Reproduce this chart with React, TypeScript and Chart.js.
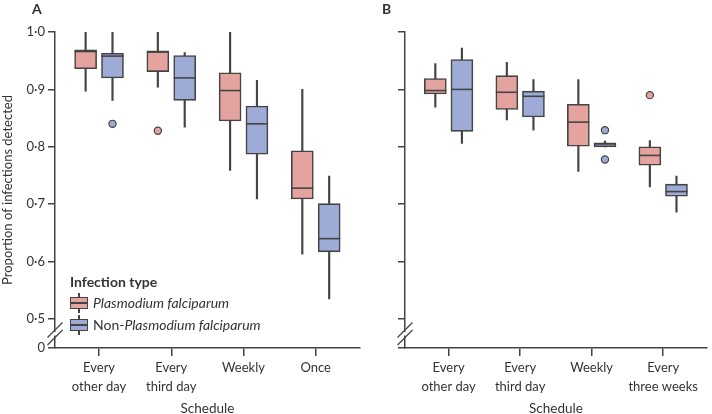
import React, { useEffect, useRef } from "react";
import { Chart, registerables } from "chart.js";

Chart.register(...registerables);

// ---------- data ----------
const CATEGORIES_A: string[][] = [["Every", "other day"], ["Every", "third day"], ["Weekly"], ["Once"]];
const CATEGORIES_B: string[][] = [["Every", "other day"], ["Every", "third day"], ["Weekly"], ["Every", "three weeks"]];

const Y_TICKS = [0.5, 0.6, 0.7, 0.8, 0.9, 1.0];
const Y_TICK_LABELS = ["0·5", "0·6", "0·7", "0·8", "0·9", "1·0"];
const Y_BREAK_LABEL = "0";

// Panel A – Plasmodium falciparum
const A_PF_HIGH = [1.0, 1.0, 1.0, 0.9];
const A_PF_Q3 = [0.969, 0.967, 0.929, 0.793];
const A_PF_MED = [0.966, 0.965, 0.898, 0.728];
const A_PF_Q1 = [0.936, 0.931, 0.845, 0.709];
const A_PF_LOW = [0.897, 0.904, 0.759, 0.613];
const A_PF_OUT_CAT = [1];
const A_PF_OUT_VAL = [0.828];

// Panel A – non-Plasmodium falciparum
const A_NPF_HIGH = [1.0, 0.964, 0.916, 0.749];
const A_NPF_Q3 = [0.963, 0.959, 0.871, 0.701];
const A_NPF_MED = [0.958, 0.92, 0.84, 0.64];
const A_NPF_Q1 = [0.92, 0.881, 0.787, 0.617];
const A_NPF_LOW = [0.881, 0.834, 0.709, 0.535];
const A_NPF_OUT_CAT = [0];
const A_NPF_OUT_VAL = [0.84];

// Panel B – Plasmodium falciparum
const B_PF_HIGH = [0.945, 0.947, 0.917, 0.811];
const B_PF_Q3 = [0.919, 0.924, 0.874, 0.8];
const B_PF_MED = [0.898, 0.895, 0.843, 0.785];
const B_PF_Q1 = [0.892, 0.865, 0.801, 0.768];
const B_PF_LOW = [0.869, 0.847, 0.757, 0.73];
const B_PF_OUT_CAT = [3];
const B_PF_OUT_VAL = [0.89];

// Panel B – non-Plasmodium falciparum
const B_NPF_HIGH = [0.972, 0.917, 0.81, 0.749];
const B_NPF_Q3 = [0.952, 0.897, 0.807, 0.735];
const B_NPF_MED = [0.9, 0.888, 0.805, 0.722];
const B_NPF_Q1 = [0.827, 0.852, 0.8, 0.714];
const B_NPF_LOW = [0.806, 0.829, 0.8, 0.686];
const B_NPF_OUT_CAT = [2, 2];
const B_NPF_OUT_VAL = [0.829, 0.778];

// ---------- style ----------
const FONT = "Lato";
const TEXT = "#333333";
const LINE = "#444444";
const RED = "#e4a39f";
const BLUE = "#9eabd7";
const GROUP_OFFSET = 0.186;
const X_PAD = 0.61;
const Y_MIN = 0.4495;

type Series = {
  low: number[]; q1: number[]; med: number[]; q3: number[]; high: number[];
  outCat: number[]; outVal: number[]; fill: string; off: number;
};

function buildDatasets(series: Series[]) {
  const ds: any[] = [];
  series.forEach((s) => {
    ds.push({
      type: "bar",
      data: s.low.map((v, i) => ({ x: i + s.off, y: [v, s.high[i]] })),
      backgroundColor: LINE,
      borderWidth: 0,
      barThickness: 1.5,
      grouped: false,
      order: 3,
    });
    ds.push({
      type: "bar",
      data: s.q1.map((v, i) => ({ x: i + s.off, y: [v, s.q3[i]] })),
      backgroundColor: s.fill,
      borderColor: LINE,
      borderWidth: 1.6,
      borderSkipped: false,
      barThickness: 22,
      grouped: false,
      order: 2,
      medians: s.med,
    });
    ds.push({
      type: "scatter",
      data: s.outCat.map((c, i) => ({ x: c + s.off, y: s.outVal[i] })),
      backgroundColor: s.fill,
      borderColor: LINE,
      borderWidth: 1.2,
      pointRadius: 3.6,
      order: 1,
    });
  });
  return ds;
}

const medianPlugin = {
  id: "medians",
  afterDatasetsDraw(chart: any) {
    const ctx = chart.ctx;
    const ys = chart.scales.y;
    chart.data.datasets.forEach((d: any, di: number) => {
      if (!d.medians) return;
      const meta = chart.getDatasetMeta(di);
      meta.data.forEach((el: any, i: number) => {
        const yy = ys.getPixelForValue(d.medians[i]);
        ctx.save();
        ctx.strokeStyle = LINE;
        ctx.lineWidth = 1.6;
        ctx.beginPath();
        ctx.moveTo(el.x - el.width / 2, yy);
        ctx.lineTo(el.x + el.width / 2, yy);
        ctx.stroke();
        ctx.restore();
      });
    });
  },
};

const breakPlugin = {
  id: "axisBreak",
  afterDraw(chart: any) {
    const ctx = chart.ctx;
    const x = chart.chartArea.left;
    const b = chart.scales.y.bottom;
    const centers = [b - 10.5, b - 18];
    ctx.save();
    ctx.strokeStyle = "#ffffff";
    ctx.lineWidth = 3;
    ctx.beginPath();
    ctx.moveTo(x, centers[0] - 2);
    ctx.lineTo(x, centers[1] + 2);
    ctx.stroke();
    ctx.strokeStyle = LINE;
    ctx.lineWidth = 1.3;
    centers.forEach((cy) => {
      ctx.beginPath();
      ctx.moveTo(x - 7.5, cy + 7.5);
      ctx.lineTo(x + 7.5, cy - 7.5);
      ctx.stroke();
    });
    ctx.restore();
  },
};

function makeConfig(series: Series[], cats: string[][], showYLabels: boolean, yWidth: number, padRight: number): any {
  return {
    type: "bar",
    data: { datasets: buildDatasets(series) },
    options: {
      animation: false,
      responsive: true,
      maintainAspectRatio: false,
      layout: { padding: { top: 32, right: padRight, bottom: 0, left: 0 } },
      plugins: { legend: { display: false }, tooltip: { enabled: false } },
      scales: {
        x: {
          type: "linear",
          min: -X_PAD,
          max: cats.length - 1 + X_PAD,
          offset: false,
          afterBuildTicks: (s: any) => {
            s.ticks = cats.map((_, i) => ({ value: i }));
          },
          ticks: {
            autoSkip: false,
            maxRotation: 0,
            callback: (_v: any, i: number) => cats[i],
            font: { family: FONT, size: 13, lineHeight: 1.42 },
            color: TEXT,
            padding: 3,
          },
          grid: { offset: false, drawOnChartArea: false, drawTicks: true, tickLength: 8, color: LINE, lineWidth: 1.5 },
          border: { display: true, color: LINE, width: 1.5 },
          title: {
            display: true, text: "Schedule", font: { family: FONT, size: 13.5, lineHeight: 1.2 }, color: TEXT,
            padding: { top: 0, bottom: -3 },
          },
          afterFit: (s: any) => {
            s.height = 66;
          },
        },
        y: {
          type: "linear",
          min: Y_MIN,
          max: 1.0,
          afterBuildTicks: (s: any) => {
            s.ticks = [Y_MIN, ...Y_TICKS].map((v) => ({ value: v }));
          },
          ticks: {
            autoSkip: false,
            callback: (_v: any, i: number) => (showYLabels ? (i === 0 ? Y_BREAK_LABEL : Y_TICK_LABELS[i - 1]) : ""),
            font: { family: FONT, size: 13 },
            color: TEXT,
            padding: 3,
          },
          grid: { drawOnChartArea: false, drawTicks: true, tickLength: 7, color: LINE, lineWidth: 1.5 },
          border: { display: true, color: LINE, width: 1.5 },
          title: {
            display: showYLabels,
            text: "Proportion of infections detected",
            font: { family: FONT, size: 13 },
            color: TEXT,
            padding: { top: 0, bottom: 0 },
          },
          afterFit: (s: any) => {
            s.width = yWidth;
          },
        },
      },
    },
    plugins: [medianPlugin, breakPlugin],
  };
}

function LegendIcon({ fill, top }: { fill: string; top: number }) {
  return (
    <div style={{ position: "absolute", left: 70, top, width: 18, height: 20 }}>
      <div style={{ position: "absolute", left: 8.25, top: 0, width: 1.5, height: 20, background: LINE }} />
      <div
        style={{
          position: "absolute", left: 0, top: 4, width: 18, height: 12, boxSizing: "border-box",
          background: fill, border: `1.5px solid ${LINE}`,
        }}
      />
      <div style={{ position: "absolute", left: 0, top: 9.25, width: 18, height: 1.5, background: LINE }} />
    </div>
  );
}

export default function App() {
  const refA = useRef<HTMLCanvasElement>(null);
  const refB = useRef<HTMLCanvasElement>(null);

  useEffect(() => {
    const seriesA: Series[] = [
      { low: A_PF_LOW, q1: A_PF_Q1, med: A_PF_MED, q3: A_PF_Q3, high: A_PF_HIGH, outCat: A_PF_OUT_CAT, outVal: A_PF_OUT_VAL, fill: RED, off: -GROUP_OFFSET },
      { low: A_NPF_LOW, q1: A_NPF_Q1, med: A_NPF_MED, q3: A_NPF_Q3, high: A_NPF_HIGH, outCat: A_NPF_OUT_CAT, outVal: A_NPF_OUT_VAL, fill: BLUE, off: GROUP_OFFSET },
    ];
    const seriesB: Series[] = [
      { low: B_PF_LOW, q1: B_PF_Q1, med: B_PF_MED, q3: B_PF_Q3, high: B_PF_HIGH, outCat: B_PF_OUT_CAT, outVal: B_PF_OUT_VAL, fill: RED, off: -GROUP_OFFSET },
      { low: B_NPF_LOW, q1: B_NPF_Q1, med: B_NPF_MED, q3: B_NPF_Q3, high: B_NPF_HIGH, outCat: B_NPF_OUT_CAT, outVal: B_NPF_OUT_VAL, fill: BLUE, off: GROUP_OFFSET },
    ];
    const a = new Chart(refA.current!, makeConfig(seriesA, CATEGORIES_A, true, 55, 2));
    const b = new Chart(refB.current!, makeConfig(seriesB, CATEGORIES_B, false, 40, 1));
    return () => {
      a.destroy();
      b.destroy();
    };
  }, []);

  return (
    <div style={{ position: "fixed", left: 0, top: 0, width: 712, height: 414, background: "#fff", fontFamily: FONT, color: TEXT }}>
      <div style={{ position: "absolute", left: 0, top: 0, width: 365, height: 414 }}>
        <canvas ref={refA} />
      </div>
      <div style={{ position: "absolute", left: 365, top: 0, width: 347, height: 414 }}>
        <canvas ref={refB} />
      </div>
      <div style={{ position: "absolute", left: 32, top: 0, fontSize: 14, fontWeight: 700, lineHeight: "18px" }}>A</div>
      <div style={{ position: "absolute", left: 382, top: 0, fontSize: 14, fontWeight: 700, lineHeight: "18px" }}>B</div>

      <div style={{ position: "absolute", left: 70, top: 273, fontSize: 14, fontWeight: 700, lineHeight: "18px", whiteSpace: "nowrap" }}>
        Infection type
      </div>
      <LegendIcon fill={RED} top={293} />
      <div style={{ position: "absolute", left: 93, top: 294, fontSize: 14, lineHeight: "18px", whiteSpace: "nowrap", fontStyle: "italic" }}>
        Plasmodium falciparum
      </div>
      <LegendIcon fill={BLUE} top={315} />
      <div style={{ position: "absolute", left: 93, top: 316, fontSize: 14, lineHeight: "18px", whiteSpace: "nowrap" }}>
        Non-<i>Plasmodium falciparum</i>
      </div>
    </div>
  );
}
